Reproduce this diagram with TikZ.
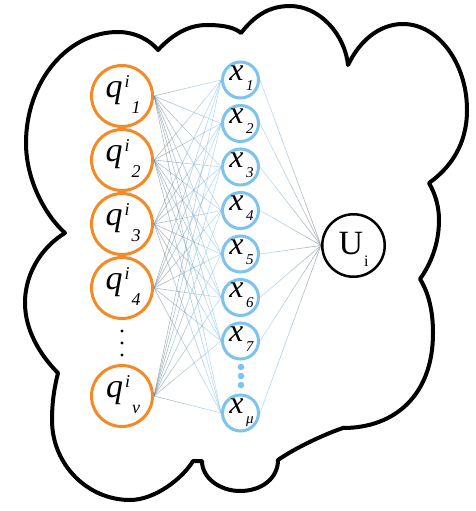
\documentclass[tikz,border=0pt]{standalone}
\usepackage{fontspec}
\setmainfont{Liberation Serif}
\usetikzlibrary{calc}

\definecolor{qorange}{RGB}{245,137,38}
\definecolor{xblue}{RGB}{125,195,238}
\definecolor{linkgray}{RGB}{105,110,118}
\definecolor{linkblue}{RGB}{125,190,235}

\pgfdeclarelayer{back}
\pgfsetlayers{back,main}

% input neuron label: q with superscript i and a subscript index
\newcommand{\qname}[1]{\kern2pt{\fontsize{34}{34}\selectfont\textit{q}}\kern2pt\raisebox{10pt}{\fontsize{18}{18}\selectfont\textit{i}}\kern2pt\raisebox{-16pt}{\fontsize{18}{18}\selectfont\textit{#1}}}
% hidden neuron label: x with a subscript index
\newcommand{\xname}[1]{\kern2pt{\fontsize{32}{32}\selectfont\textit{x}}\kern2.5pt\raisebox{-10pt}{\fontsize{15}{15}\selectfont\textit{#1}}}

\begin{document}
\begin{tikzpicture}[x=1pt,y=-1pt,
  qnode/.style={circle,draw=qorange,line width=3pt,fill=white,minimum size=61pt,
    inner sep=0pt,text height=18pt,text depth=16pt},
  xnode/.style={circle,draw=xblue,line width=3pt,fill=white,minimum size=36pt,
    inner sep=0pt,text height=12pt,text depth=12pt},
  unode/.style={circle,draw=black,line width=2.5pt,fill=white,minimum size=62.5pt,
    inner sep=0pt,text height=22pt,text depth=5pt},
  qdot/.style={circle,fill=black,inner sep=0pt,minimum size=3.2pt},
  xdot/.style={circle,fill=xblue,inner sep=0pt,minimum size=6.5pt},
  cloudline/.style={draw=black,line width=4pt,line join=round},
  link/.style={line width=0.6pt,opacity=0.55}
]
\useasboundingbox (0,0) rectangle (475,511);

% input layer
\foreach \k/\yy in {1/96,2/160,3/224,4/288}
  \node[qnode] (q\k) at (122,\yy) {\qname{\k}};
\node[qnode] (q5) at (122,396) {\qname{ν}};
\node[qdot] (qd1) at (122,331) {};
\node[qdot] (qd2) at (122,343) {};
\node[qdot] (qd3) at (122,355) {};

% hidden layer
\foreach \k/\yy in {1/80,2/123.5,3/167,4/210.5,5/254,6/297.5,7/341}
  \node[xnode] (x\k) at (240.5,\yy) {\xname{\k}};
\node[xnode] (x8) at (240.5,413) {\xname{μ}};
\node[xdot] (xd1) at (241,367) {};
\node[xdot] (xd2) at (241,376) {};
\node[xdot] (xd3) at (241,385) {};

% output
\node[unode] (u) at (353.5,245.5) {{\fontsize{34}{34}\selectfont U}\kern1pt\raisebox{-12pt}{\fontsize{16}{16}\selectfont i}};

\begin{pgfonlayer}{back}
  % cloud outline
  \draw[cloudline] (65,233)
    .. controls (45,215) and (26,180) .. (26,143)
    .. controls (26,82) and (67,32) .. (118,32)
    .. controls (135,32) and (150,40) .. (158,50)
    .. controls (172,35) and (188,25) .. (207,25)
    .. controls (225,25) and (235,28) .. (241,33)
    .. controls (255,15) and (270,6) .. (290,6)
    .. controls (320,6) and (345,35) .. (348,65)
    .. controls (360,40) and (380,24) .. (403,24)
    .. controls (438,24) and (467,63) .. (467,110)
    .. controls (467,145) and (450,168) .. (429,183)
    .. controls (436,195) and (439,208) .. (439,220)
    .. controls (439,245) and (430,265) .. (420,279)
    .. controls (430,295) and (433,315) .. (433,333)
    .. controls (433,395) and (395,428) .. (343,428)
    .. controls (325,434) and (295,448) .. (278,460)
    .. controls (278,478) and (262,491) .. (240,491)
    .. controls (220,491) and (202,478) .. (202,461)
    -- (193,461)
    .. controls (183,478) and (155,500) .. (130,500)
    .. controls (88,500) and (52,465) .. (52,420)
    .. controls (52,400) and (55,385) .. (58,373)
    .. controls (40,355) and (25,330) .. (25,303)
    .. controls (25,270) and (45,245) .. (65,233)
    -- cycle;

  % input -> hidden links, gray at the input side fading to blue
  \foreach \i in {1,...,5}
    \foreach \j in {1,...,8}
      \foreach \s in {0,...,3}{
        \pgfmathsetmacro\ta{\s/4}
        \pgfmathsetmacro\tb{(\s+1)/4}
        \pgfmathtruncatemacro\pct{25+\s*25}
        \draw[link,color=linkblue!\pct!linkgray]
          ($(q\i.east)!\ta!(x\j.west)$) -- ($(q\i.east)!\tb!(x\j.west)$);
      }

  % hidden -> output links, blue at the hidden side fading to gray
  \foreach \j in {1,...,8}
    \foreach \s in {0,...,3}{
      \pgfmathsetmacro\ta{\s/4}
      \pgfmathsetmacro\tb{(\s+1)/4}
      \pgfmathtruncatemacro\pct{100-\s*30}
      \draw[link,color=linkblue!\pct!linkgray]
        ($(x\j.east)!\ta!(u.west)$) -- ($(x\j.east)!\tb!(u.west)$);
    }
\end{pgfonlayer}
\end{tikzpicture}
\end{document}
